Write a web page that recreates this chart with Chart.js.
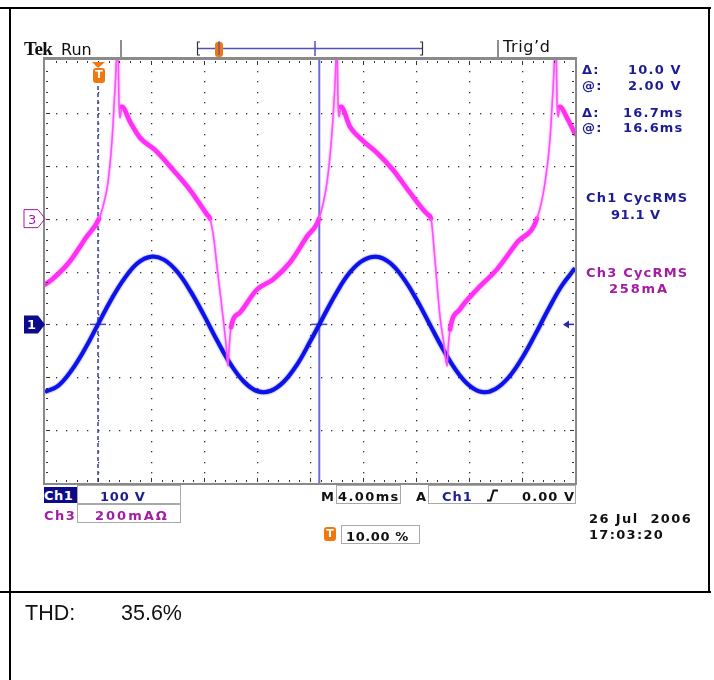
<!DOCTYPE html>
<html>
<head>
<meta charset="utf-8">
<title>Tek scope capture</title>
<script src="https://cdn.jsdelivr.net/npm/chart.js@4.4.1/dist/chart.umd.min.js"></script>
<style>
  body { margin: 0; background: #fff; }
  #page { position: relative; width: 714px; height: 680px; overflow: hidden; background: #fff; }
  #scope { position: absolute; left: 0; top: 0; }
  .t { position: absolute; white-space: pre; line-height: 1; font-family: "DejaVu Sans", sans-serif;
       font-size: 13px; font-weight: bold; letter-spacing: 1.2px; color: #1c1c96; }
  .ch3 { color: #a41ca4; }
  .blk { color: #111; }
  .box { position: absolute; border: 1px solid #a9a9a9; box-sizing: border-box; }
  .rule { position: absolute; background: #000; }
  .sep { position: absolute; background: #8e8e8e; }
  .ticon { position: absolute; background: #f07810; color: #fff; border-radius: 3px; text-align: center;
           font: bold 11px/14px "DejaVu Sans", sans-serif; }
</style>
</head>
<body>
<div id="page">
  <canvas id="scope" width="714" height="680"></canvas>

  <!-- table rules -->
  <div class="rule" style="left:0;top:7px;width:711px;height:2px"></div>
  <div class="rule" style="left:9px;top:7px;width:2px;height:673px"></div>
  <div class="rule" style="left:708px;top:7px;width:2px;height:586px"></div>
  <div class="rule" style="left:0;top:591px;width:711px;height:2px"></div>

  <!-- header -->
  <div class="t blk" style="left:24px;top:39px;font:bold 19px/1 'Liberation Serif',serif;letter-spacing:-0.5px">Tek</div>
  <div class="t blk" style="left:61px;top:42px;font-size:16px;font-weight:normal;letter-spacing:0">Run</div>
  <div class="sep" style="left:120px;top:40px;width:2px;height:18px"></div>
  <div class="sep" style="left:497px;top:40px;width:2px;height:18px"></div>
  <div class="t blk" style="left:503px;top:39px;font-size:16px;font-weight:normal;letter-spacing:0.6px">Trig’d</div>

  <!-- cursor readouts -->
  <div class="t" style="left:582px;top:63px">Δ:</div>
  <div class="t" style="left:628px;top:63px">10.0 V</div>
  <div class="t" style="left:582px;top:79px">@:</div>
  <div class="t" style="left:628px;top:79px">2.00 V</div>
  <div class="t" style="left:582px;top:106px">Δ:</div>
  <div class="t" style="left:623px;top:106px">16.7ms</div>
  <div class="t" style="left:582px;top:121px">@:</div>
  <div class="t" style="left:623px;top:121px">16.6ms</div>

  <div class="t" style="left:586px;top:191px">Ch1 CycRMS</div>
  <div class="t" style="left:611px;top:208px;letter-spacing:0.5px">91.1 V</div>
  <div class="t ch3" style="left:586px;top:266px">Ch3 CycRMS</div>
  <div class="t ch3" style="left:609px;top:282px;letter-spacing:1.8px">258mA</div>

  <!-- channel ground labels -->
  <div class="t ch3" style="left:28px;top:213px;font-weight:normal;letter-spacing:0">3</div>
  <div class="t" style="left:27px;top:318px;letter-spacing:0;color:#fff">1</div>

  <!-- trigger position icon -->
  <div class="ticon" style="left:93px;top:68px;width:12px;height:15px">T</div>

  <!-- bottom readouts -->
  <div class="t" style="left:44px;top:487px;width:33px;height:16px;background:#0b0b8c;color:#fff;letter-spacing:0.5px;padding-top:2px;box-sizing:border-box">Ch1</div>
  <div class="box" style="left:77px;top:485px;width:104px;height:19px"></div>
  <div class="t" style="left:100px;top:490px;letter-spacing:0.8px">100 V</div>
  <div class="t ch3" style="left:44px;top:509px;letter-spacing:1.5px">Ch3</div>
  <div class="box" style="left:77px;top:504px;width:104px;height:19px"></div>
  <div class="t ch3" style="left:95px;top:509px;letter-spacing:2px">200mAΩ</div>

  <div class="t blk" style="left:321px;top:490px;letter-spacing:0">M</div>
  <div class="box" style="left:336px;top:485px;width:65px;height:19px"></div>
  <div class="t blk" style="left:338px;top:490px;letter-spacing:1.4px">4.00ms</div>
  <div class="t blk" style="left:416px;top:490px;letter-spacing:0">A</div>
  <div class="box" style="left:428px;top:485px;width:148px;height:19px"></div>
  <div class="t" style="left:442px;top:490px;letter-spacing:1px">Ch1</div>
  <svg style="position:absolute;left:486px;top:489px" width="13" height="13">
    <path d="M1 11.5 H4.5 L7.5 1.5 H12" fill="none" stroke="#111" stroke-width="2"/>
  </svg>
  <div class="t blk" style="left:522px;top:490px;letter-spacing:1.1px">0.00 V</div>

  <div class="ticon" style="left:324px;top:527px;width:12px;height:14px">T</div>
  <div class="box" style="left:341px;top:525px;width:79px;height:19px"></div>
  <div class="t blk" style="left:346px;top:530px;letter-spacing:0.6px">10.00 %</div>

  <div class="t blk" style="left:589px;top:512px;letter-spacing:1.4px">26 Jul  2006</div>
  <div class="t blk" style="left:589px;top:528px;letter-spacing:1.3px">17:03:20</div>

  <!-- lower table cell -->
  <div class="t blk" style="left:25px;top:603px;font:21.5px/1 'Liberation Sans',Arial,sans-serif;letter-spacing:0">THD:</div>
  <div class="t blk" style="left:121px;top:603px;font:21.5px/1 'Liberation Sans',Arial,sans-serif;letter-spacing:0">35.6%</div>
</div>

<script>
// Ch1: line voltage (V), 100 V/div, read every 1 ms
const ch1TimeMs = [-4, -3, -2, -1, 0, 1, 2, 3, 4, 5, 6, 7, 8, 9, 10, 11, 12, 13, 14, 15, 16,
                   17, 18, 19, 20, 21, 22, 23, 24, 25, 26, 27, 28, 29, 30, 31, 32, 33, 34, 35, 36];
const ch1Volts = [-128, -116, -87, -47, 0, 47, 87, 116, 128, 122, 99, 62, 17, -31, -75, -108, -126, -126, -109, -77, -33,
                  14, 60, 98, 121, 128, 117, 89, 49, 2, -45, -86, -115, -128, -122, -100, -64, -19, 29, 73, 106];

// Ch3: line current (mA), 200 mA/div
const ch3TimeMs = [-4.0, -3.47, -2.19, -0.91, 0.08, 0.45, 0.75, 1.06, 1.28, 1.51, 1.58, 1.66, 1.81, 2.42, 3.17,
                   4.30, 5.66, 6.94, 8.23, 8.45, 8.75, 8.98, 9.28, 9.43, 9.66, 9.81, 9.89, 10.04, 10.72, 12.00,
                   13.21, 14.49, 15.77, 16.68, 17.28, 17.66, 17.89, 18.04, 18.11, 18.19, 18.34, 19.02, 19.92,
                   21.06, 22.26, 23.55, 24.91, 25.13, 25.43, 25.81, 26.11, 26.34, 26.42, 26.57, 27.32, 28.60,
                   30.11, 31.62, 33.13, 33.75, 34.11, 34.34, 34.57, 34.64, 34.72, 34.87, 35.40, 36.0];
const ch3MilliAmps = [-249, -230, -166, -72, 0, 60, 136, 298, 487, 675, 449, 381, 423, 366, 306,
                      260, 185, 109, 15, 0, -79, -181, -306, -370, -475, -558, -494, -411, -355, -268,
                      -230, -166, -68, 0, 136, 325, 513, 675, 449, 385, 423, 347, 298,
                      249, 185, 98, 15, 0, -155, -370, -475, -558, -494, -419, -343, -268,
                      -192, -91, 0, 140, 298, 487, 675, 449, 385, 423, 381, 321];

// cursor positions (ms) and screen setup
const cursorTimesMs = [0, 16.7];
const timeRangeMs = [-4, 36];      // 4 ms/div, trigger at 10 %
const ch1RangeV = [-300, 500];     // ground 1 div below centre
const ch3RangeMa = [-1000, 600];   // ground 1 div above centre

const ch1Points = ch1TimeMs.map((t, i) => ({ x: t, y: ch1Volts[i] }));
const ch3Points = ch3TimeMs.map((t, i) => ({ x: t, y: ch3MilliAmps[i] }));

const isSpike = c => Math.abs(c.p1.y - c.p0.y) > 2.5 * Math.abs(c.p1.x - c.p0.x);

const screen = {
  id: 'screen',
  beforeDatasetsDraw(chart) {
    const { ctx, chartArea: a, scales } = chart;
    const dx = (a.right - a.left) / 10, dy = (a.bottom - a.top) / 8;
    ctx.save();
    // dotted graticule
    ctx.fillStyle = '#333';
    for (let i = 1; i < 10; i++) {
      const x = Math.round(a.left + i * dx);
      for (let k = 1; k < 40; k++) ctx.fillRect(x, Math.round(a.top + k * dy / 5), 1.3, 1.3);
    }
    for (let j = 1; j < 8; j++) {
      const y = Math.round(a.top + j * dy);
      for (let k = 1; k < 50; k++) ctx.fillRect(Math.round(a.left + k * dx / 5), y, 1.3, 1.3);
    }
    // cursors
    const c1 = scales.x.getPixelForValue(cursorTimesMs[0]);
    const c2 = scales.x.getPixelForValue(cursorTimesMs[1]);
    ctx.strokeStyle = '#3c3ca8';
    ctx.lineWidth = 1.5;
    ctx.setLineDash([4, 3]);
    ctx.beginPath(); ctx.moveTo(c1, 86); ctx.lineTo(c1, a.bottom); ctx.stroke();
    ctx.setLineDash([]);
    ctx.strokeStyle = 'rgba(70,70,200,0.8)';
    ctx.lineWidth = 2;
    ctx.beginPath(); ctx.moveTo(c2, a.top); ctx.lineTo(c2, a.bottom); ctx.stroke();
    const g1 = scales.y1.getPixelForValue(0);
    ctx.strokeStyle = '#4a4ac0';
    ctx.lineWidth = 1.5;
    [c1, c2].forEach(x => { ctx.beginPath(); ctx.moveTo(x - 8, g1); ctx.lineTo(x + 8, g1); ctx.stroke(); });
    ctx.restore();
  },
  // soft edge on the traces, like the phosphor look of the capture
  beforeDatasetDraw(chart, args) {
    const ctx = chart.ctx;
    ctx.save();
    ctx.shadowColor = args.index === 0 ? 'rgba(255,60,245,0.8)' : 'rgba(20,30,235,0.8)';
    ctx.shadowBlur = 2;
  },
  afterDatasetDraw(chart) {
    chart.ctx.restore();
  },
  afterDatasetsDraw(chart) {
    const { ctx, chartArea: a, scales } = chart;
    const dx = (a.right - a.left) / 10, dy = (a.bottom - a.top) / 8;
    ctx.save();
    // frame
    ctx.strokeStyle = '#8a8a8a';
    ctx.lineWidth = 2;
    ctx.strokeRect(a.left - 1, a.top - 1, a.right - a.left + 2, a.bottom - a.top + 2);
    ctx.fillStyle = '#8a8a8a';
    ctx.fillRect(a.left - 2, a.top - 3, a.right - a.left + 4, 2);
    // edge ticks every 1/5 division
    ctx.fillStyle = '#333';
    for (let k = 1; k < 50; k++) {
      const x = Math.round(a.left + k * dx / 5), h = k % 5 === 0 ? 4 : 2;
      ctx.fillRect(x, a.top + 1, 1, h);
      ctx.fillRect(x, a.bottom - 1 - h, 1, h);
    }
    for (let k = 1; k < 40; k++) {
      const y = Math.round(a.top + k * dy / 5), w = k % 5 === 0 ? 4 : 2;
      ctx.fillRect(a.left + 1, y, w, 1);
      ctx.fillRect(a.right - 1 - w, y, w, 1);
    }
    // channel ground markers
    const g3 = scales.y3.getPixelForValue(0), g1 = scales.y1.getPixelForValue(0);
    const tag = (y) => {
      ctx.beginPath();
      ctx.moveTo(24, y - 9); ctx.lineTo(38, y - 9); ctx.lineTo(45, y);
      ctx.lineTo(38, y + 9); ctx.lineTo(24, y + 9); ctx.closePath();
    };
    ctx.strokeStyle = '#a41ca4'; ctx.lineWidth = 1; tag(g3); ctx.stroke();
    ctx.fillStyle = '#0b0b8c'; tag(g1); ctx.fill();
    // trigger level arrow
    ctx.fillStyle = '#2a2aa8';
    ctx.beginPath(); ctx.moveTo(a.right - 12, g1); ctx.lineTo(a.right - 6, g1 - 4); ctx.lineTo(a.right - 6, g1 + 4); ctx.fill();
    ctx.fillRect(a.right - 7, g1 - 0.75, 6, 1.5);
    // trigger position triangle
    const tx = scales.x.getPixelForValue(0);
    ctx.fillStyle = '#f07810';
    ctx.beginPath(); ctx.moveTo(tx - 6, a.top + 2); ctx.lineTo(tx + 7, a.top + 2); ctx.lineTo(tx, a.top + 8); ctx.fill();
    // record view bar
    ctx.strokeStyle = '#5050b8'; ctx.lineWidth = 1.5;
    ctx.beginPath(); ctx.moveTo(198, 48.5); ctx.lineTo(423, 48.5); ctx.stroke();
    ctx.beginPath(); ctx.moveTo(315, 41); ctx.lineTo(315, 56); ctx.stroke();
    ctx.strokeStyle = '#333'; ctx.lineWidth = 1.2;
    ctx.beginPath(); ctx.moveTo(200, 42); ctx.lineTo(197.5, 42); ctx.lineTo(197.5, 55); ctx.lineTo(200, 55); ctx.stroke();
    ctx.beginPath(); ctx.moveTo(420, 42); ctx.lineTo(422.5, 42); ctx.lineTo(422.5, 55); ctx.lineTo(420, 55); ctx.stroke();
    ctx.fillStyle = '#f07810';
    ctx.beginPath(); ctx.roundRect(215, 42, 8, 15, 3); ctx.fill();
    ctx.strokeStyle = '#5050b8'; ctx.lineWidth = 1.2;
    ctx.beginPath(); ctx.moveTo(219, 41); ctx.lineTo(219, 55); ctx.stroke();
    ctx.restore();
  }
};

new Chart(document.getElementById('scope'), {
  type: 'line',
  data: {
    datasets: [
      {
        label: 'Ch3',
        data: ch3Points,
        yAxisID: 'y3',
        borderColor: '#ff30f4',
        borderWidth: 4.5,
        borderCapStyle: 'round',
        borderJoinStyle: 'round',
        cubicInterpolationMode: 'monotone',
        pointRadius: 0,
        clip: 0,
        segment: {
          borderWidth: c => isSpike(c) ? 1.5 : 4.5,
          borderColor: c => isSpike(c) ? '#ff50ff' : '#ff30f4'
        }
      },
      {
        label: 'Ch1',
        data: ch1Points,
        yAxisID: 'y1',
        borderColor: '#0c12e8',
        borderWidth: 4,
        tension: 0.4,
        pointRadius: 0,
        clip: 0
      }
    ]
  },
  options: {
    responsive: false,
    animation: false,
    events: [],
    layout: { padding: { left: 45, top: 60, right: 139, bottom: 197 } },
    scales: {
      x: { type: 'linear', min: timeRangeMs[0], max: timeRangeMs[1], display: false },
      y1: { type: 'linear', min: ch1RangeV[0], max: ch1RangeV[1], display: false },
      y3: { type: 'linear', min: ch3RangeMa[0], max: ch3RangeMa[1], display: false }
    },
    plugins: { legend: { display: false }, tooltip: { enabled: false } }
  },
  plugins: [screen]
});
</script>
</body>
</html>
